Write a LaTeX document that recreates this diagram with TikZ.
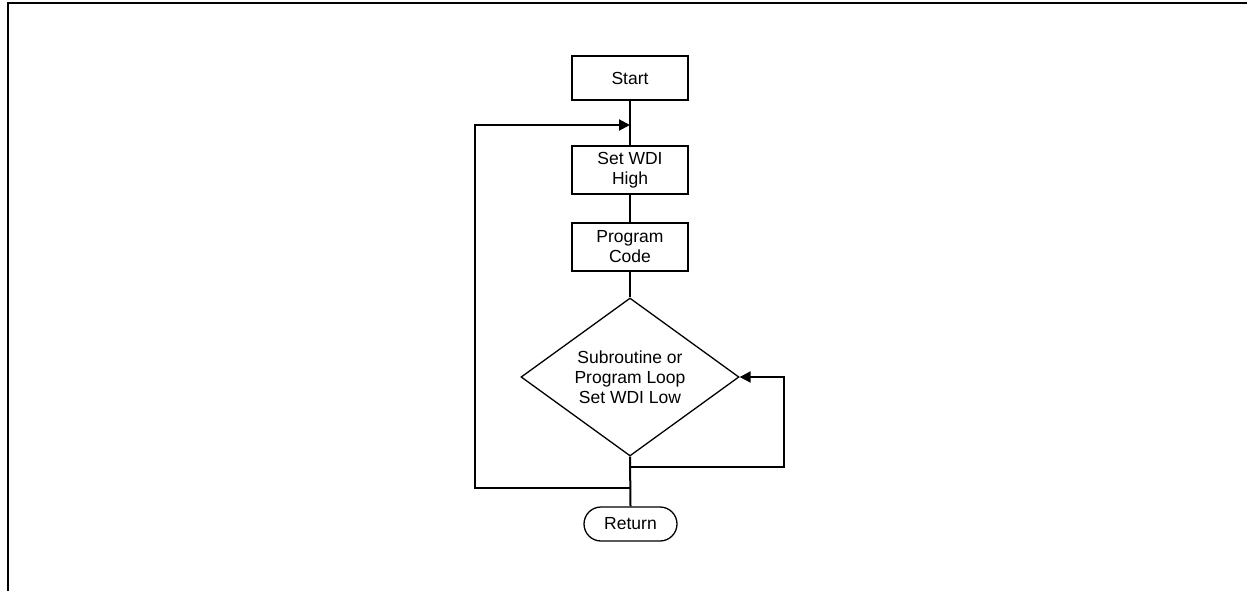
\documentclass[tikz,border=0pt]{standalone}
\usepackage{fontspec}
\setmainfont{Liberation Sans}
\usetikzlibrary{shapes.geometric,shapes.misc,arrows.meta}
\begin{document}
\begin{tikzpicture}[x=1pt,y=-1pt,
  every node/.style={font=\fontsize{17.5}{20}\selectfont, align=center, inner sep=0pt},
  procbox/.style={draw, line width=2pt, minimum width=116pt},
  decision/.style={draw, diamond, line width=1.3pt, aspect=1.38, minimum width=218pt, minimum height=158pt},
  term/.style={draw, rounded rectangle, line width=1.3pt, minimum width=93pt, minimum height=34pt},
  conn/.style={line width=2pt},
  arr/.style={conn, -{Triangle[length=11pt,width=11pt]}}]
\useasboundingbox (0,0) rectangle (1247,591);
\draw[line width=2.5pt] (8,591) -- (8,3) -- (1250,3);
\node[procbox, minimum height=44pt] (start) at (630,78) {Start};
\node[procbox, minimum height=48pt] (set) at (630,170) {Set WDI\\High};
\node[procbox, minimum height=48pt] (prog) at (630,247) {Program\\Code};
\node[decision] (dia) at (630,377) {Subroutine or\\Program Loop\\Set WDI Low};
\node[term] (ret) at (630.5,524) {Return};
\coordinate (j1) at (630,467);
\coordinate (j2) at (630,488);
\coordinate (ja) at (630,125);
\coordinate (rr) at (784,377);
\coordinate (ll) at (475,488);
\draw[conn] (start.south) -- (set.north);
\draw[conn] (set.south) -- (prog.north);
\draw[conn] (prog.south) -- (dia.north);
\draw[conn] (dia.south) -- (ret.north);
\draw[arr] (j1) -| (rr) -- (dia.east);
\draw[arr] (j2) -- (ll) |- (ja);
\end{tikzpicture}
\end{document}
